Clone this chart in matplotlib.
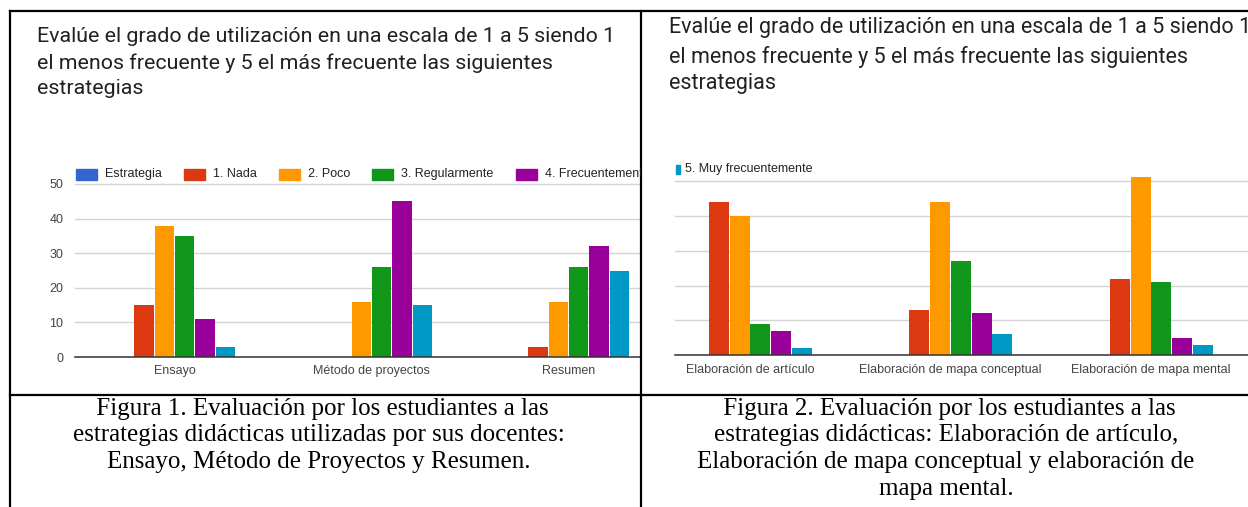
import matplotlib
matplotlib.use("Agg")
import matplotlib.pyplot as plt
import numpy as np
from matplotlib.patches import Rectangle
from matplotlib.transforms import Bbox, TransformedBbox

# survey answers, one list per answer level
series_names = ["Estrategia", "1. Nada", "2. Poco", "3. Regularmente",
                "4. Frecuentemente", "5. Muy frecuentemente"]
series_colors = ["#3366cc", "#dc3912", "#ff9900", "#109618", "#990099", "#0099c6"]

cats_1 = ["Ensayo", "Método de proyectos", "Resumen"]
nada_1 = [15, 0, 3]
poco_1 = [38, 16, 16]
regular_1 = [35, 26, 26]
frecuente_1 = [11, 45, 32]
muy_frecuente_1 = [3, 15, 25]

cats_2 = ["Elaboración de artículo", "Elaboración de mapa conceptual",
          "Elaboración de mapa mental"]
nada_2 = [44, 13, 22]
poco_2 = [40, 44, 51]
regular_2 = [9, 27, 21]
frecuente_2 = [7, 12, 5]
muy_frecuente_2 = [2, 6, 3]

y_ticks = [0, 10, 20, 30, 40, 50]

title = ["Evalúe el grado de utilización en una escala de 1 a 5 siendo 1",
         "el menos frecuente y 5 el más frecuente las siguientes",
         "estrategias"]
caption_1 = [" Figura 1. Evaluación por los estudiantes a las",
             "estrategias didácticas utilizadas por sus docentes:",
             "Ensayo, Método de Proyectos y Resumen."]
caption_2 = [" Figura 2. Evaluación por los estudiantes a las",
             "estrategias didácticas: Elaboración de artículo,",
             "Elaboración de mapa conceptual y elaboración de",
             "mapa mental."]

W, H = 1248, 507
fig = plt.figure(figsize=(W / 100, H / 100), dpi=100)


def px_axes(x0, y0, x1, y1):
    return fig.add_axes([x0 / W, 1 - y1 / H, (x1 - x0) / W, (y1 - y0) / H])


def bar_chart(ax, cats, cols, base_px, top_px, unit_px, left_px, right_px, c0_px, band_px, show_y):
    # empty "Estrategia" slot first, like the form summary does
    values = [np.zeros(len(cats))] + [np.array(c) for c in cols]
    x = np.arange(len(cats))
    step = 0.1035
    for i, v in enumerate(values):
        ax.bar(x + (i - 2.5) * step, v, width=step * 0.96,
               color=series_colors[i], linewidth=0, zorder=2)
    ax.set_xlim((left_px - c0_px) / band_px, (right_px - c0_px) / band_px)
    ax.set_ylim(0, (base_px - top_px) / unit_px * 10)
    ax.set_yticks(y_ticks)
    ax.grid(axis="y", color="#d4d4d4", linewidth=1, zorder=0)
    ax.set_axisbelow(True)
    ax.set_xticks(x)
    ax.set_xticklabels(cats, fontsize=9, color="#444444", family="Liberation Sans")
    ax.tick_params(axis="x", length=0, pad=6)
    ax.tick_params(axis="y", length=0, pad=8.5, labelsize=9, labelcolor="#444444")
    if show_y:
        for lab in ax.get_yticklabels():
            lab.set_family("Liberation Sans")
    else:
        ax.set_yticklabels([])
    for s in ["top", "right", "left"]:
        ax.spines[s].set_visible(False)
    ax.spines["bottom"].set_color("#333333")
    ax.spines["bottom"].set_linewidth(1.1)
    ax.spines["bottom"].set_zorder(3)


ax1 = px_axes(75, 177, 640, 357)
bar_chart(ax1, cats_1, [nada_1, poco_1, regular_1, frecuente_1, muy_frecuente_1],
          357, 177, 34.6, 75, 640, 174.5, 197, True)

ax2 = px_axes(675, 170, W, 355.3)
bar_chart(ax2, cats_2, [nada_2, poco_2, regular_2, frecuente_2, muy_frecuente_2],
          355.3, 170, 34.9, 675, W, 750, 200.5, False)

# overlay in pixel coordinates for titles, legends, captions and the table
frame = fig.add_axes([0, 0, 1, 1], zorder=5)
frame.set_xlim(0, W)
frame.set_ylim(H, 0)
frame.axis("off")
frame.patch.set_alpha(0)

left_cell = TransformedBbox(Bbox([[10, 11], [641, 395]]), frame.transData)

for i, line in enumerate(title):
    frame.text(37, [36, 63, 89][i], line, fontsize=15.4, family="Roboto",
               color="#202124", va="center", ha="left")
    frame.text(669, [27, 57, 84][i], line, fontsize=15.5, family="Roboto",
               color="#202124", va="center", ha="left")

# legend row of the first chart, cut off at the cell border
leg_x = [76, 184, 279, 372, 516]
for i, lx in enumerate(leg_x):
    frame.add_patch(Rectangle((lx, 168.5), 21, 11, color=series_colors[i]))
    t = frame.text(lx + 29, 174, series_names[i], fontsize=9, family="Liberation Sans",
                   color="#222222", va="center", ha="left", clip_on=True)
    t.set_clip_box(left_cell)

# second chart only shows the last legend entry
frame.add_patch(Rectangle((676, 164.5), 4, 9, color=series_colors[5]))
frame.text(685, 169, series_names[5], fontsize=9, family="Liberation Sans",
           color="#222222", va="center", ha="left")

for i, line in enumerate(caption_1):
    frame.text(319, 409 + i * 26.5, line, fontsize=18, family="Liberation Serif",
               color="black", va="center", ha="center")
for i, line in enumerate(caption_2):
    frame.text(946, 409 + i * 26.5, line, fontsize=18, family="Liberation Serif",
               color="black", va="center", ha="center")

# table borders
lw = 1.6
frame.plot([10, W], [11, 11], color="black", lw=lw)
frame.plot([10, 10], [11, H], color="black", lw=lw)
frame.plot([641, 641], [11, H], color="black", lw=lw)
frame.plot([10, W], [395, 395], color="black", lw=lw)

fig.savefig("out.png", dpi=100)
